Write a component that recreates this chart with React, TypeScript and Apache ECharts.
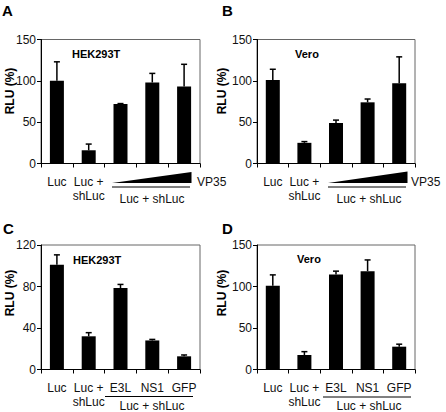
import React, { useEffect, useRef } from "react";
import * as echarts from "echarts";

// ---- data ----
const CATS_AB = ["Luc", "Luc + shLuc", "VP35 low", "VP35 mid", "VP35 high"];
const XLABELS_AB = ["Luc", "Luc +\nshLuc", "", "", ""];
const CATS_CD = ["Luc", "Luc + shLuc", "E3L", "NS1", "GFP"];
const XLABELS_CD = ["Luc", "Luc +\nshLuc", "E3L", "NS1", "GFP"];

const A_VALUES = [100, 16, 72, 98, 93];
const A_ERR = [23, 7.5, 0.5, 11, 27];
const B_VALUES = [101, 25, 49, 74, 97];
const B_ERR = [13, 1.5, 3.5, 4, 32];
const C_VALUES = [101, 32, 78.5, 28, 12.7];
const C_ERR = [9.5, 3.5, 3.5, 1, 1.3];
const D_VALUES = [101, 17.5, 114.5, 118.5, 27.5];
const D_ERR = [13, 4, 4, 13.5, 3];

const TICKS_150 = [0, 50, 100, 150];
const TICKS_120 = [0, 40, 80, 120];

const PANEL_LETTERS = ["A", "B", "C", "D"];
const PANEL_TITLES = ["HEK293T", "Vero", "HEK293T", "Vero"];
const Y_TITLE = "RLU (%)";
const GROUP_LABEL = "Luc + shLuc";
const DOSE_LABEL = "VP35";

const FONT = "'Liberation Sans', Arial, Helvetica, sans-serif";

const panels = [
  { cats: CATS_AB, labels: XLABELS_AB, values: A_VALUES, err: A_ERR },
  { cats: CATS_AB, labels: XLABELS_AB, values: B_VALUES, err: B_ERR },
  { cats: CATS_CD, labels: XLABELS_CD, values: C_VALUES, err: C_ERR },
  { cats: CATS_CD, labels: XLABELS_CD, values: D_VALUES, err: D_ERR },
];
const PANEL_TICKS = [TICKS_150, TICKS_150, TICKS_120, TICKS_150];

// ---- layout ----
const GRIDS = [
  { left: 41, top: 39.5, width: 159, height: 124 },
  { left: 257, top: 39.5, width: 158, height: 124 },
  { left: 41, top: 245, width: 159, height: 124.5 },
  { left: 257, top: 245, width: 158, height: 124.5 },
];
const LETTER_POS = [[2, 3], [222, 3], [3, 221], [222, 221]];
const YTITLE_POS = [[10, 91], [222, 91], [10, 293], [222, 293]];
const TITLE_POS = [[72, 54], [295, 54], [73, 260], [297, 259]];

export default function App() {
  const ref = useRef<HTMLDivElement>(null);

  useEffect(() => {
    if (!ref.current) return;
    const chart = echarts.init(ref.current, null, { renderer: "svg" });

    const grid: any[] = [];
    const xAxis: any[] = [];
    const yAxis: any[] = [];
    const series: any[] = [];

    panels.forEach((p, i) => {
      const ticks = PANEL_TICKS[i];
      grid.push({
        ...GRIDS[i],
        show: true,
        borderColor: "#666",
        borderWidth: 1,
        backgroundColor: "transparent",
        containLabel: false,
        outerBoundsMode: "none",
      });
      xAxis.push({
        type: "category",
        gridIndex: i,
        data: p.cats,
        boundaryGap: true,
        axisLine: { show: true, lineStyle: { color: "#000", width: 1 } },
        axisTick: { show: true, inside: false, length: 4, lineStyle: { color: "#000" } },
        axisLabel: {
          show: true,
          interval: 0,
          margin: 11,
          fontFamily: FONT,
          fontSize: 12,
          lineHeight: 14,
          color: "#111",
          formatter: (_v: string, idx: number) => p.labels[idx],
        },
        splitLine: { show: false },
      });
      yAxis.push({
        type: "value",
        gridIndex: i,
        min: ticks[0],
        max: ticks[ticks.length - 1],
        interval: ticks[1] - ticks[0],
        axisLine: { show: true, lineStyle: { color: "#000", width: 1 } },
        axisTick: { show: true, inside: false, length: 4, lineStyle: { color: "#000" } },
        axisLabel: { margin: 5, fontFamily: FONT, fontSize: 12, color: "#111" },
        splitLine: { show: false },
      });
      series.push({
        type: "bar",
        xAxisIndex: i,
        yAxisIndex: i,
        data: p.values,
        barWidth: 14,
        itemStyle: { color: "#000" },
        z: 2,
      });
      series.push({
        type: "custom",
        xAxisIndex: i,
        yAxisIndex: i,
        z: 3,
        data: p.values.map((v, k) => [k, v, v + p.err[k]]),
        renderItem: (_params: any, api: any) => {
          const base = api.coord([api.value(0), api.value(1)]);
          const top = api.coord([api.value(0), api.value(2)]);
          const x = base[0];
          return {
            type: "group",
            children: [
              {
                type: "line",
                shape: { x1: x, y1: base[1], x2: x, y2: top[1] },
                style: { stroke: "#000", lineWidth: 1.5 },
              },
              {
                type: "line",
                shape: { x1: x - 3, y1: top[1], x2: x + 3, y2: top[1] },
                style: { stroke: "#000", lineWidth: 1.5 },
              },
            ],
          };
        },
      });
    });

    const graphic: any[] = [];
    PANEL_LETTERS.forEach((l, i) => {
      graphic.push({
        type: "text",
        x: LETTER_POS[i][0],
        y: LETTER_POS[i][1],
        style: { text: l, fontFamily: FONT, fontSize: 15, fontWeight: "bold", fill: "#000", textVerticalAlign: "top" },
      });
      graphic.push({
        type: "text",
        x: YTITLE_POS[i][0],
        y: YTITLE_POS[i][1],
        rotation: Math.PI / 2,
        style: {
          text: Y_TITLE,
          fontFamily: FONT,
          fontSize: 12,
          fontWeight: "bold",
          fill: "#000",
          textAlign: "center",
          textVerticalAlign: "middle",
        },
      });
      graphic.push({
        type: "text",
        x: TITLE_POS[i][0],
        y: TITLE_POS[i][1],
        style: {
          text: PANEL_TITLES[i],
          fontFamily: FONT,
          fontSize: 11,
          fontWeight: "bold",
          fill: "#000",
          textVerticalAlign: "middle",
        },
      });
    });

    // dose wedges (A, B)
    const wedges = [
      [[112, 183], [191.5, 172], [191.5, 183]],
      [[328, 183], [407.5, 171.5], [407.5, 183]],
    ];
    wedges.forEach((pts) =>
      graphic.push({ type: "polygon", shape: { points: pts }, style: { fill: "#000" } })
    );
    const doseLabelPos = [[197, 182], [411, 182]];
    doseLabelPos.forEach((pt) =>
      graphic.push({
        type: "text",
        x: pt[0],
        y: pt[1],
        style: { text: DOSE_LABEL, fontFamily: FONT, fontSize: 12, fill: "#111", textVerticalAlign: "middle" },
      })
    );
    // group underlines and labels
    const underlines = [
      [112, 190, 187],
      [328, 406, 187],
      [105, 193, 396.5],
      [323, 411, 397],
    ];
    underlines.forEach((u) =>
      graphic.push({
        type: "line",
        shape: { x1: u[0], y1: u[2], x2: u[1], y2: u[2] },
        style: { stroke: "#000", lineWidth: 1 },
      })
    );
    const groupLabelPos = [[152, 198.5], [369, 198.5], [152, 405.5], [369, 405.5]];
    groupLabelPos.forEach((pt) =>
      graphic.push({
        type: "text",
        x: pt[0],
        y: pt[1],
        style: {
          text: GROUP_LABEL,
          fontFamily: FONT,
          fontSize: 12,
          lineHeight: 12,
          fill: "#111",
          textAlign: "center",
          textVerticalAlign: "middle",
        },
      })
    );

    chart.setOption({
      animation: false,
      backgroundColor: "#fff",
      textStyle: { fontFamily: FONT },
      grid,
      xAxis,
      yAxis,
      series,
      graphic,
    });

    return () => chart.dispose();
  }, []);

  return (
    <div
      ref={ref}
      style={{ position: "absolute", left: 0, top: 0, width: 446, height: 412 }}
    />
  );
}
